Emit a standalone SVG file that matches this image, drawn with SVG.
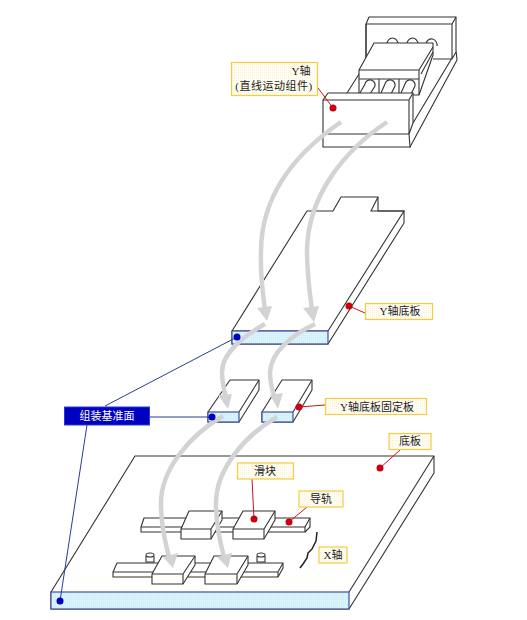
<svg xmlns="http://www.w3.org/2000/svg" width="527" height="620" viewBox="0 0 527 620">
<style>
.s{fill:#fff;stroke:#333;stroke-width:1.1;stroke-linejoin:round}
.n{fill:none;stroke:#333;stroke-width:1.1}
.f{fill:url(#bluedots);stroke:#3f4f9f;stroke-width:1.2}
.lab{fill:url(#yellowdots);stroke:#f2cc44;stroke-width:1.2}
.t{font-family:"Liberation Serif","Noto Sans CJK SC",serif;font-size:11px;fill:#222;text-anchor:middle}
.r{stroke:#c8141e;stroke-width:1;fill:none}
.rd{fill:#c8000f}
.b{stroke:#2a3a9a;stroke-width:1;fill:none}
.bd{fill:#0000c0}
.arr{fill:none;stroke:#d3d3d3;stroke-width:4.500}
.head{fill:#d3d3d3}
</style>
<defs>
<pattern id="bluedots" width="2" height="2" patternUnits="userSpaceOnUse"><rect width="2" height="2" fill="#d2effc"/><rect width="1" height="1" fill="#e6f6fd"/></pattern>
<pattern id="yellowdots" width="2" height="2" patternUnits="userSpaceOnUse"><rect width="2" height="2" fill="#fffef2"/><rect width="1" height="1" fill="#f7f3dc"/></pattern>
</defs>
<rect width="527" height="620" fill="#fff"/>

<g id="y-axis-assembly">
<path class="s" d="M366 24L369 17H456L456 50L457 60L410 147L360 120L347 93L366 63Z"/>
<path class="n" d="M366 24H452V58M452 24L456 17M433 59H452L456 52M452 58L413 123"/>
<path class="n" d="M366 24V63"/>
<path class="n" d="M387 44a5.500 6 0 0 1 11 0M407 44a5.500 6 0 0 1 11 0M426 44a5.500 6 0 0 1 11 2"/>
<path class="s" d="M359 70L374 43H433V55L419 95H359Z"/>
<path class="n" d="M359 70H419L433 47M419 70V95M359 79H419M421 74L433 52"/>
<path class="n" d="M379 79V95M399 79V95"/>
<path class="n" d="M360 93L365 84a5 5 0 0 1 10 2L370 94M381 93L385 84a5 5 0 0 1 10 2L391 94M401 93L405 84a5 5 0 0 1 10 2L411 94"/>
<path class="s" d="M323 100L328 93H413V123L409 134L410 147H323Z"/>
<path class="n" d="M323 100H409V134M409 100L413 93M323 134H409"/>
</g>

<g id="y-base-plate">
<path class="s" d="M232 331L307 211H333L341 197H378V211H404V223L328 344H232Z"/>
<path class="n" d="M378 197L371 211H378M378 211H404L328 331H232"/>
<rect class="f" x="232" y="331" width="96" height="13"/>
</g>

<g id="fix-plate-1">
<path class="s" d="M208 412L230 380H259V390L239 422H208Z"/>
<path class="n" d="M239 412L259 380"/>
<rect class="f" x="208" y="412" width="31" height="10"/>
</g>
<g id="fix-plate-2">
<path class="s" d="M262 412L282 380H312V390L293 422H262Z"/>
<path class="n" d="M293 412L312 380"/>
<rect class="f" x="262" y="412" width="31" height="10"/>
</g>

<g id="base-plate">
<path class="s" d="M51 592L135 456H434V473L349 609H51Z"/>
<path class="n" d="M349 592L434 456"/>
<rect class="f" x="51" y="592" width="298" height="17"/>
</g>

<g id="rail-1">
<path class="s" d="M141 527L144 518H310L305 527V532H141Z"/>
<path class="n" d="M141 527H305M310 518V527L305 532"/>
</g>
<g id="slider-1">
<path class="s" d="M181 529L189 511H222V520L211 539H181Z"/>
<path class="n" d="M181 529H211V539M211 529L222 511"/>
</g>
<g id="slider-2">
<path class="s" d="M233 529L243 511H275V520L264 539H233Z"/>
<path class="n" d="M233 529H264V539M264 529L275 511"/>
</g>
<g id="pins">
<path class="s" d="M146 556V562H154V556"/><ellipse class="s" cx="150" cy="555" rx="4" ry="2"/>
<path class="s" d="M257 556V562H265V556"/><ellipse class="s" cx="261" cy="555" rx="4" ry="2"/>
</g>
<g id="rail-2">
<path class="s" d="M113 572L117 563H283V568L278 577H113Z"/>
<path class="n" d="M113 572H278L283 563M278 572V577"/>
</g>
<g id="slider-3">
<path class="s" d="M152 574L162 556H195V565L183 584H152Z"/>
<path class="n" d="M152 574H183V584M183 574L195 556"/>
</g>
<g id="slider-4">
<path class="s" d="M205 574L214 556H248V565L237 584H205Z"/>
<path class="n" d="M205 574H237V584M237 574L248 556"/>
</g>

<g id="connectors">
<path class="arr" d="M341 122C300 150 262 190 261 250C260 275 263 295 265 310"/>
<path class="head" d="M257 308L272 306L267 321Z"/>
<path class="arr" d="M387 122C345 150 308 195 307 250C307 275 310 295 312 310"/>
<path class="head" d="M303 308L319 306L314 322Z"/>
<path class="arr" d="M265 324C240 338 222 355 222 372C222 382 224 390 226 398"/>
<path class="head" d="M218 395L232 394L228 409Z"/>
<path class="arr" d="M315 324C292 335 271 352 270 372C270 382 272 390 275 398"/>
<path class="head" d="M270 395L283 393L278 409Z"/>
<path class="arr" d="M223 416C190 435 160 470 161 505C161 525 165 542 169 557"/>
<path class="head" d="M163 557L178 553L173 568Z"/>
<path class="arr" d="M277 417C245 435 215 470 216 505C216 525 220 542 224 557"/>
<path class="head" d="M217 557L232 553L228 568Z"/>

<path class="b" d="M105 406L237 337M87 425L60 601M149 417H212"/>
<circle class="bd" cx="237" cy="337" r="3.500"/>
<circle class="bd" cx="212" cy="417" r="3.500"/>
<circle class="bd" cx="60" cy="601" r="3.500"/>

<path class="r" d="M318 88L333 108M349 306L365 313M299 407L325 405M400 450L380 468M252 479L254 519M307 507L289 522"/>
<circle class="rd" cx="333" cy="108" r="3.500"/>
<circle class="rd" cx="349" cy="306" r="3.500"/>
<circle class="rd" cx="299" cy="407" r="3.500"/>
<circle class="rd" cx="380" cy="468" r="3.500"/>
<circle class="rd" cx="254" cy="519" r="3.500"/>
<circle class="rd" cx="289" cy="522" r="3.500"/>
<path d="M317 532L316 541L312 549L308 553L307 558L303 564L300 568" fill="none" stroke="#222" stroke-width="1.500" stroke-linejoin="round"/>
</g>

<g id="label-y-axis">
<rect class="lab" x="231.500" y="62.500" width="86" height="33"/>
<text class="t" x="301" y="75">Y轴</text>
<text class="t" x="274" y="90" letter-spacing="0.500">(直线运动组件)</text>
</g>
<g id="label-y-base">
<rect class="lab" x="365.500" y="303.500" width="67" height="16"/>
<text class="t" x="400" y="315">Y轴底板</text>
</g>
<g id="label-datum">
<rect x="64.500" y="407" width="85" height="18" fill="#0000c0" stroke="#2a3ad0"/>
<text class="t" x="107" y="420" style="fill:#fff">组装基准面</text>
</g>
<g id="label-fix">
<rect class="lab" x="325.500" y="398.500" width="101" height="16"/>
<text class="t" x="377" y="411">Y轴底板固定板</text>
</g>
<g id="label-base">
<rect class="lab" x="389" y="433.500" width="42" height="16"/>
<text class="t" x="410" y="445">底板</text>
</g>
<g id="label-slider">
<rect class="lab" x="237.500" y="463" width="56" height="16"/>
<text class="t" x="265" y="475">滑块</text>
</g>
<g id="label-rail">
<rect class="lab" x="299" y="491" width="44" height="16"/>
<text class="t" x="321" y="503">导轨</text>
</g>
<g id="label-x">
<rect class="lab" x="319" y="547" width="28" height="16"/>
<text class="t" x="333" y="559">X轴</text>
</g>
</svg>
